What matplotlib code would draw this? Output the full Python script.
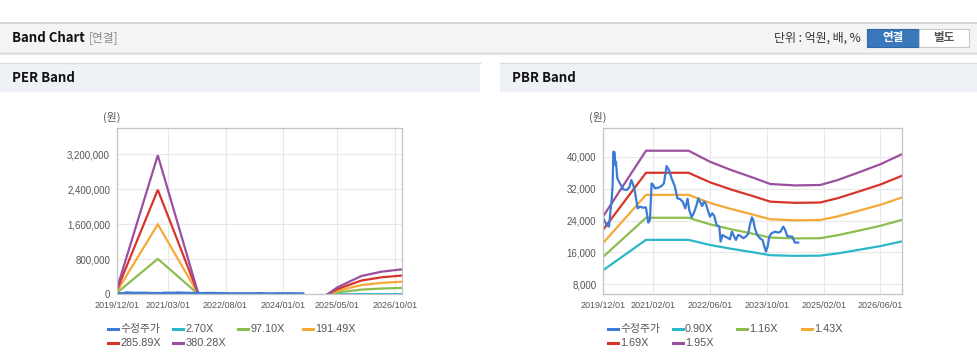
import numpy as np
import pandas as pd
import matplotlib
matplotlib.use("Agg")
import matplotlib.pyplot as plt
import matplotlib.dates as mdates
from matplotlib.patches import Rectangle
from matplotlib.lines import Line2D

# ---------------- data ----------------
series_names_per = ["수정주가", "2.70X", "97.10X", "191.49X", "285.89X", "380.28X"]
series_names_pbr = ["수정주가", "0.90X", "1.16X", "1.43X", "1.69X", "1.95X"]
colors = ["#3b7bd4", "#2bb7c8", "#8dbd4f", "#f5a937", "#d7352c", "#9b4f9f"]

# adjusted share price (months since 2019/12/01, value in 원)
price_month = [0, 0.94, 1.6, 2.06, 2.35, 2.63, 2.81, 3.19, 3.38, 3.56, 3.94, 4.69, 5.63,
               6.57, 7.32, 7.88, 8.44, 9.0, 9.66, 10.32, 11.26, 12.0, 12.66, 13.13, 13.6,
               14.07, 14.54, 15.48, 16.42, 17.07, 17.82, 18.57, 19.23, 20.17, 20.83, 21.58,
               22.33, 23.08, 23.73, 24.2, 24.86, 25.52, 26.27, 26.74, 27.2, 27.86, 28.33,
               28.89, 29.55, 30.02, 30.68, 31.24, 31.89, 32.65, 33.02, 33.58, 34.24, 34.9,
               35.65, 36.21, 36.77, 37.34, 37.99, 38.65, 39.4, 40.34, 40.81, 41.28, 41.84,
               42.21, 42.68, 43.34, 44.09, 44.84, 45.22, 45.78, 46.25, 46.72, 47.37, 48.31,
               49.25, 49.91, 50.66, 51.13, 51.78, 52.72, 53.19, 53.94, 54.88]
price_value = [24550, 22880, 22470, 26640, 29150, 32900, 41250, 41100, 37900, 38750, 34570,
               33300, 31800, 31650, 32300, 34150, 32900, 30800, 27050, 27480, 27200, 27300,
               23470, 24130, 33300, 32900, 32070, 32240, 32650, 33320, 37660, 36500, 34570,
               32480, 29560, 29400, 28730, 27050, 29480, 26640, 24800, 25970, 27900, 29560,
               28730, 27640, 28730, 28150, 26230, 24970, 25800, 25140, 22880, 22470, 18710,
               20380, 19960, 19710, 19290, 21210, 20130, 19125, 20380, 20130, 19550, 20130,
               20790, 22880, 24800, 24130, 22050, 20380, 19550, 19125, 17870, 16200, 17450,
               19960, 20790, 21210, 20960, 21210, 22470, 21800, 20130, 19960, 19960, 18460,
               18460]

# PER band nodes
per_dates = ["2019-12-01", "2020-12-01", "2021-12-01", "2023-06-01",
             "2025-02-01", "2025-05-01", "2025-12-01", "2026-06-01", "2026-12-01"]
per_270 = [970, 22600, 0, np.nan, 0, 1100, 3000, 3700, 4050]
per_9710 = [35000, 810000, 0, np.nan, 0, 41000, 107000, 132000, 146000]
per_19149 = [69000, 1600000, 0, np.nan, 0, 80000, 211000, 261000, 287000]
per_28589 = [103000, 2390000, 0, np.nan, 0, 120000, 314000, 389000, 429000]
per_38028 = [137000, 3180000, 0, np.nan, 0, 160000, 418000, 518000, 571000]

# PBR band nodes
pbr_dates = ["2019-12-01", "2020-12-01", "2021-12-01", "2022-06-01", "2022-12-01",
             "2023-06-01", "2023-11-01", "2024-06-01", "2025-01-01", "2025-06-01",
             "2025-12-01", "2026-06-01", "2026-12-01"]
pbr_090 = [11580, 19150, 19150, 17880, 16910, 16060, 15300, 15140, 15190, 15760, 16660, 17590, 18740]
pbr_116 = [14930, 24690, 24690, 23050, 21800, 20700, 19720, 19510, 19570, 20320, 21480, 22670, 24150]
pbr_143 = [18410, 30430, 30430, 28420, 26880, 25520, 24310, 24050, 24130, 25040, 26470, 27940, 29770]
pbr_169 = [21750, 35970, 35970, 33590, 31760, 30160, 28730, 28430, 28510, 29600, 31290, 33020, 35190]
pbr_195 = [25100, 41500, 41500, 38750, 36650, 34800, 33150, 32800, 32900, 34150, 36100, 38100, 40600]

per_ticks = ["2019/12/01", "2021/03/01", "2022/08/01", "2024/01/01", "2025/05/01", "2026/10/01"]
pbr_ticks = ["2019/12/01", "2021/02/01", "2022/06/01", "2023/10/01", "2025/02/01", "2026/06/01"]
per_yticks = [0, 800000, 1600000, 2400000, 3200000]
pbr_yticks = [8000, 16000, 24000, 32000, 40000]

# ---------------- figure ----------------
W, H = 978, 362
fig = plt.figure(figsize=(W / 100, H / 100), dpi=100)
fig.patch.set_facecolor("white")

KR = ["Noto Sans CJK KR", "DejaVu Sans"]
NUM = ["Liberation Sans", "Noto Sans CJK KR"]

bg = fig.add_axes([0, 0, 1, 1], zorder=-10)
bg.set_xlim(0, W)
bg.set_ylim(H, 0)
bg.axis("off")

# top strip
bg.add_patch(Rectangle((0, 22), W, 30.5, fc="#f4f4f4", ec="none"))
bg.plot([0, W], [22.5, 22.5], color="#cfcfcf", lw=1.2)
bg.plot([0, W], [52.5, 52.5], color="#d4d4d4", lw=1.0)
bg.plot([0, W], [53.5, 53.5], color="#ececec", lw=1.0)
bg.text(12, 38, "Band Chart", fontfamily=KR, fontweight="bold", fontsize=9.5,
        va="center", ha="left", color="#111")
bg.text(89, 38, "[연결]", fontfamily=KR, fontsize=8.5, va="center", ha="left", color="#8a8a8a")
bg.text(861, 38, "단위 : 억원, 배, %", fontfamily=KR, fontsize=8.6, va="center", ha="right", color="#333")
bg.add_patch(Rectangle((867, 29), 52, 18, fc="#3a78bb", ec="#2e68a6", lw=0.8))
bg.add_patch(Rectangle((919, 29), 50, 18, fc="white", ec="#c8c8c8", lw=0.8))
bg.text(893, 38, "연결", fontfamily=KR, fontsize=8.3, fontweight="bold", color="white",
        va="center", ha="center")
bg.text(944, 38, "별도", fontfamily=KR, fontsize=8.3, fontweight="bold", color="#555",
        va="center", ha="center")

# section headers
for x0, x1, title in [(0, 480, "PER Band"), (500, W, "PBR Band")]:
    bg.add_patch(Rectangle((x0, 63), x1 - x0, 29, fc="#eef2f7", ec="none"))
    bg.plot([x0, x1], [63.3, 63.3], color="#dcdcdc", lw=1.0)
    bg.text(x0 + 12, 78, title, fontfamily=KR, fontweight="bold", fontsize=9.5,
            va="center", ha="left", color="#111")

bg.text(112, 117, "(원)", fontfamily=KR, fontsize=7.8, va="center", ha="center", color="#555")
bg.text(598, 117, "(원)", fontfamily=KR, fontsize=7.8, va="center", ha="center", color="#555")


def to_dates(lst):
    return pd.to_datetime(lst)


def style_axes(ax, tick_labels, yticks, ylim, fmt):
    ax.set_xlim(pd.Timestamp("2019-12-01"), pd.Timestamp("2026-12-01"))
    ax.set_ylim(*ylim)
    tpos = pd.to_datetime(tick_labels, format="%Y/%m/%d")
    ax.set_xticks(tpos)
    ax.set_xticklabels(tick_labels, fontfamily=NUM, fontsize=6.5, color="#555")
    ax.set_yticks(yticks)
    ax.set_yticklabels([fmt(v) for v in yticks], fontfamily=NUM, fontsize=7, color="#555")
    ax.tick_params(length=0, pad=5)
    ax.grid(True, color="#e8e8e8", lw=0.8)
    ax.set_axisbelow(True)
    for s in ax.spines.values():
        s.set_color("#c4c4c4")
        s.set_linewidth(0.9)


price_dates = pd.Timestamp("2019-12-01") + pd.to_timedelta(np.array(price_month) * 30.437, unit="D")

# PER chart
ax1 = fig.add_axes([117 / W, 1 - 294.3 / H, 285 / W, 166.6 / H])
pd_per = to_dates(per_dates)
per_series = [per_270, per_9710, per_19149, per_28589, per_38028]
for vals, c in zip(per_series, colors[1:]):
    ax1.plot(pd_per, vals, color=c, lw=1.6, solid_joinstyle="miter")
ax1.plot(price_dates, price_value, color=colors[0], lw=1.8)
style_axes(ax1, per_ticks, per_yticks, (0, 3810000), lambda v: f"{v:,}")

# PBR chart
ax2 = fig.add_axes([603.3 / W, 1 - 294.3 / H, 298.4 / W, 166.6 / H])
pd_pbr = to_dates(pbr_dates)
pbr_series = [pbr_090, pbr_116, pbr_143, pbr_169, pbr_195]
for vals, c in zip(pbr_series, colors[1:]):
    ax2.plot(pd_pbr, vals, color=c, lw=1.6)
ax2.plot(price_dates, price_value, color=colors[0], lw=1.6)
style_axes(ax2, pbr_ticks, pbr_yticks, (5500, 47270), lambda v: f"{v:,}")

# legends
def draw_legend(names, xs):
    rows = [329, 343]
    for i, (name, c) in enumerate(zip(names, colors)):
        r = i // 4
        col = i % 4
        x = xs[col]
        y = rows[r]
        bg.add_line(Line2D([x, x + 10], [y, y], color=c, lw=2.2))
        bg.text(x + 12.5, y, name, fontfamily=NUM if name[0].isdigit() else KR,
                fontsize=7.8, va="center", ha="left", color="#555")


draw_legend(series_names_per, [108, 173, 238, 303])
draw_legend(series_names_pbr, [607.5, 672.5, 737, 802])

fig.savefig("out.png", dpi=100)
